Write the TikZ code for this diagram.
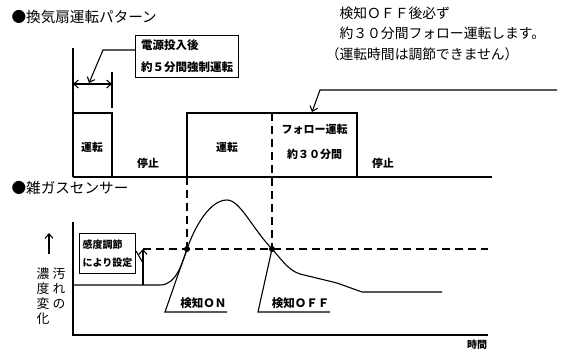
\documentclass[tikz,border=0pt]{standalone}
\usepackage{fontspec}
\setmainfont{Noto Sans CJK JP}
\usetikzlibrary{arrows.meta, positioning}

\begin{document}
\begin{tikzpicture}[
            x = 1pt, y = -1pt, % pixel grid, y runs downwards
            > = {Straight Barb[length=4.5pt, width=8pt]}, % arrow head style
            line width = 1.1pt,
            every node/.style={inner sep=0pt}
        ]

        \tikzstyle{title}=[anchor=west, font=\fontsize{14.6}{16}\selectfont]
        \tikzstyle{box}=[draw, rectangle, anchor=north west, align=left]
        \tikzstyle{lbl}=[font=\bfseries\fontsize{10.8}{12}\selectfont]
        \tikzstyle{dot}=[circle, fill, minimum size=6pt]
        \tikzstyle{level}=[dash pattern=on 8pt off 5pt]

        \useasboundingbox (0,0) rectangle (562,351);

        % fan pattern
        \node[title] (FANTTL) at (11,17) {●換気扇運転パターン};
        \node[box, minimum width=103pt, minimum height=42pt,
              font=\bfseries\fontsize{11.5}{22}\selectfont] (POWER) at (135,35) {電源投入後\\約５分間強制運転};
        \node[anchor=north west, align=left, font=\fontsize{13.8}{20.5}\selectfont] (NOTE) at (339,6)
            {検知ＯＦＦ後必ず\\約３０分間フォロー運転します。\\\hspace*{-1em}（運転時間は調節できません）};

        \draw (73,48) -- (73,177);
        \draw (73,113) -- (112,113) -- (112,177);
        \draw (112,72) -- (112,108);
        \draw[<->] (73,84) -- (112,84);
        \draw (73,177) -- (492,177);
        \draw (187,177) -- (187,113) -- (357,113) -- (357,177);
        \draw[level] (272,113) -- (272,250);
        \draw[level] (187,177) -- (187,250);

        \node[lbl] (RUN1) at (92,147) {運転};
        \node[lbl] (STOP1) at (148,163) {停止};
        \node[lbl] (RUN2) at (227,147) {運転};
        \node[lbl, align=center, font=\bfseries\fontsize{11}{25}\selectfont] (FOLLOW) at (314.5,142) {フォロー運転\\約３０分間};
        \node[lbl] (STOP2) at (383,163) {停止};

        \draw[->] (POWER.west |- 0,50) -- (103,50) -- (89,83);
        \coordinate (NOTEEND) at (557,90);
        \draw[->] (NOTEEND) -- (320,90) -- (312,112);

        % gas sensor
        \node[title] (GASTTL) at (11,188) {●雑ガスセンサー};
        \draw (73,222) -- (73,335) -- (488,335);
        \node[lbl, font=\bfseries\fontsize{10}{12}\selectfont] (TIME) at (477,345) {時間};

        \draw[->] (49,254) -- (49,233);
        \node[align=center, anchor=north, font=\fontsize{12.8}{15}\selectfont] (CONC) at (43,267) {濃\\度\\変\\化};
        \node[align=center, anchor=north, font=\fontsize{12.8}{15}\selectfont] (DIRT) at (59,267) {汚\\れ\\の};

        \node[box, minimum width=56pt, minimum height=40pt,
              font=\bfseries\fontsize{10}{18}\selectfont] (SENS) at (79,233) {感度調節\\により設定};
        \draw[->] (143,285) -- (143,249);
        \draw (SENS.east |- 0,251) -- (143,263);
        \draw[level] (143,249) -- (488,249);

        \draw (73,285) -- (160,285) .. controls (176,285) and (182,264) .. (187,249)
              .. controls (195,226) and (210,200) .. (227,200)
              .. controls (240,200) and (252,228) .. (272,249)
              .. controls (282,260) and (288,270) .. (300,274)
              -- (337,283) -- (362,292) -- (442,292);

        \node[dot] (DON) at (187,249) {};
        \node[dot] (DOFF) at (272,249) {};

        \node[anchor=south east, font=\bfseries\fontsize{11.5}{12}\selectfont] (ONLBL) at (227,309) {検知ＯＮ};
        \node[anchor=south east, font=\bfseries\fontsize{11.5}{12}\selectfont] (OFFLBL) at (330,309) {検知ＯＦＦ};
        \draw (DON.center) -- (165,312) -- (ONLBL.south east |- 0,312);
        \draw (DOFF.center) -- (258,312) -- (OFFLBL.south east |- 0,312);

    \end{tikzpicture}
\end{document}
